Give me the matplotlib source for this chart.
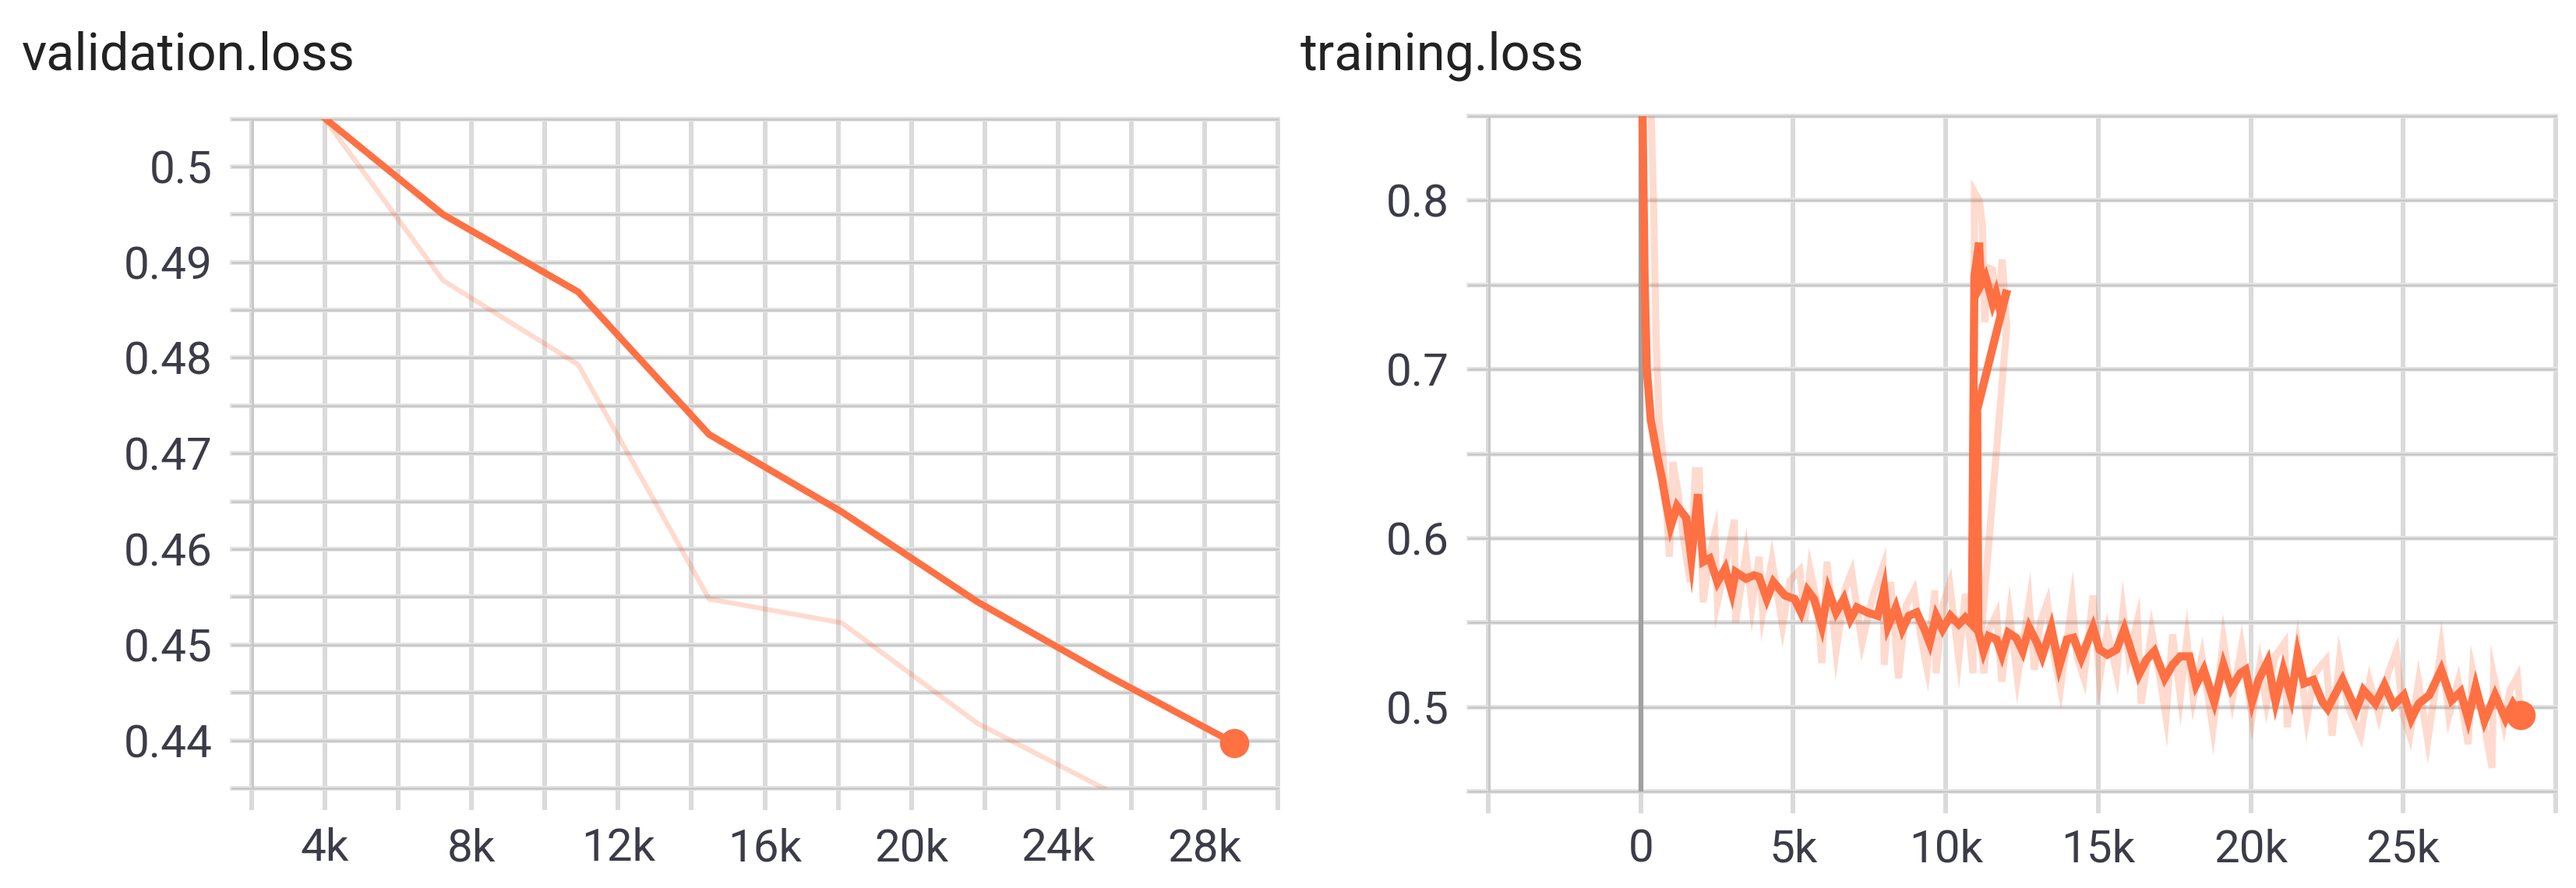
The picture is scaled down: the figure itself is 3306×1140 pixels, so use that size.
import matplotlib
matplotlib.use("Agg")
import matplotlib.pyplot as plt

# ---------------- data ----------------
# validation.loss (raw points and TensorBoard-smoothed line)
val_steps = [3950, 7220, 10910, 14480, 18100, 21800, 25350, 28820]
val_smoothed = [0.5052, 0.4950, 0.4869, 0.4720, 0.4639, 0.4545, 0.4468, 0.4397]
val_raw = [0.5052, 0.4881, 0.4793, 0.4548, 0.4523, 0.4418, 0.4348, 0.4290]

# training.loss, smoothed line, three consecutive runs (logged in this order)
runA_s_steps = [0, 60, 130, 200, 330, 550, 700, 820, 980, 1190, 1490, 1660, 1875, 2050,
                2260, 2515, 2770, 2985, 3110, 3450, 3710, 3880, 4135, 4350, 4730, 5043,
                5256, 5470, 5680, 5937, 6150, 6405, 6661, 6874, 7087, 7428, 7768, 7981,
                8109, 8365, 8578, 8790, 9046, 9302, 9472, 9685, 9898, 10153, 10427,
                10641, 10855]
runA_s_vals = [0.95, 0.85, 0.75, 0.70, 0.67, 0.648, 0.635, 0.622, 0.607, 0.619, 0.612,
               0.588, 0.626, 0.586, 0.588, 0.574, 0.582, 0.568, 0.580, 0.576, 0.578,
               0.577, 0.564, 0.574, 0.566, 0.564, 0.556, 0.569, 0.564, 0.548, 0.569,
               0.556, 0.564, 0.552, 0.559, 0.556, 0.554, 0.570, 0.548, 0.559, 0.546,
               0.554, 0.556, 0.546, 0.538, 0.554, 0.546, 0.554, 0.549, 0.553, 0.549]
runB_s_steps = [10940, 11094, 11154, 11300, 11410, 11538, 11650, 11795, 12009]
runB_s_vals = [0.755, 0.775, 0.750, 0.755, 0.748, 0.739, 0.745, 0.734, 0.747]
runC_s_steps = [11030, 11068, 11239, 11410, 11667, 11838, 12051, 12308, 12521, 12735,
                12991, 13162, 13461, 13718, 13974, 14188, 14444, 14829, 15043, 15299,
                15598, 15855, 16068, 16325, 16581, 16838, 17179, 17436, 17692, 17991,
                18205, 18462, 18803, 19103, 19359, 19658, 19829, 20043, 20256, 20556,
                20812, 21068, 21325, 21538, 21752, 22051, 22350, 22520, 23010, 23451,
                23696, 24088, 24382, 24676, 25020, 25265, 25510, 25853, 26245, 26588,
                26882, 27127, 27373, 27667, 28010, 28353, 28598, 28850]
runC_s_vals = [0.676, 0.545, 0.533, 0.542, 0.540, 0.531, 0.544, 0.541, 0.533, 0.547,
               0.538, 0.530, 0.547, 0.524, 0.540, 0.541, 0.529, 0.547, 0.534, 0.531,
               0.534, 0.546, 0.534, 0.519, 0.528, 0.533, 0.517, 0.525, 0.530, 0.530,
               0.513, 0.522, 0.503, 0.525, 0.511, 0.520, 0.522, 0.503, 0.516, 0.527,
               0.503, 0.522, 0.506, 0.531, 0.514, 0.516, 0.503, 0.499, 0.516, 0.498,
               0.510, 0.502, 0.513, 0.501, 0.507, 0.493, 0.502, 0.507, 0.522, 0.504,
               0.509, 0.493, 0.512, 0.492, 0.507, 0.493, 0.502, 0.495]

# training.loss, raw values
runA_r_steps = [0, 300, 420, 500, 600, 750, 940, 1050, 1200, 1400, 1620, 1790, 1918, 2046,
                2250, 2430, 2515, 2800, 3070, 3110, 3450, 3650, 3880, 4000, 4300, 4650,
                4900, 5213, 5383, 5554, 5800, 5937, 6107, 6405, 6700, 6916, 7257, 7600,
                7939, 7981, 8194, 8450, 8700, 8961, 9200, 9387, 9642, 9685, 9900, 10128,
                10427, 10641, 10897]
runA_r_vals = [1.00, 0.88, 0.80, 0.72, 0.67, 0.645, 0.589, 0.645, 0.630, 0.600, 0.574,
               0.640, 0.640, 0.562, 0.590, 0.603, 0.562, 0.585, 0.611, 0.550, 0.591,
               0.560, 0.589, 0.556, 0.587, 0.548, 0.575, 0.581, 0.551, 0.581, 0.560,
               0.526, 0.586, 0.533, 0.570, 0.580, 0.538, 0.565, 0.583, 0.525, 0.574,
               0.517, 0.560, 0.569, 0.540, 0.523, 0.569, 0.520, 0.560, 0.573, 0.529,
               0.567, 0.520]
runB_r_steps = [10940, 11100, 11197, 11282, 11400, 11538, 11700, 11850, 12000]
runB_r_vals = [0.805, 0.800, 0.786, 0.728, 0.760, 0.759, 0.735, 0.765, 0.725]
runC_r_steps = [11150, 11250, 11400, 11667, 11838, 12094, 12350, 12735, 12906, 13100,
                13333, 13550, 13761, 14145, 14300, 14530, 14829, 15043, 15300, 15600,
                15812, 16000, 16282, 16410, 16752, 17000, 17222, 17436, 17692, 17906,
                18120, 18400, 18761, 19103, 19400, 19700, 20043, 20300, 20513, 20800,
                21111, 21197, 21538, 21838, 22100, 22471, 22667, 22912, 23200, 23598,
                23900, 24200, 24500, 24775, 25000, 25216, 25500, 25804, 26050, 26245,
                26500, 26800, 27127, 27275, 27600, 27912, 27961, 28300, 28500, 28745,
                28850]
runC_r_vals = [0.540, 0.520, 0.545, 0.555, 0.515, 0.555, 0.517, 0.562, 0.522, 0.550,
               0.562, 0.530, 0.511, 0.562, 0.530, 0.517, 0.566, 0.517, 0.545, 0.520,
               0.557, 0.530, 0.551, 0.502, 0.545, 0.520, 0.494, 0.543, 0.506, 0.540,
               0.505, 0.530, 0.487, 0.540, 0.505, 0.536, 0.494, 0.525, 0.502, 0.530,
               0.538, 0.488, 0.536, 0.493, 0.520, 0.528, 0.483, 0.528, 0.500, 0.483,
               0.515, 0.495, 0.520, 0.533, 0.495, 0.483, 0.515, 0.480, 0.510, 0.535,
               0.495, 0.515, 0.478, 0.522, 0.495, 0.464, 0.519, 0.490, 0.510, 0.518,
               0.495]

# axes / tick labels
val_xgrid = [2000, 4000, 6000, 8000, 10000, 12000, 14000, 16000, 18000, 20000, 22000,
             24000, 26000, 28000, 30000]
val_xlabels = ["", "4k", "", "8k", "", "12k", "", "16k", "", "20k", "", "24k", "", "28k", ""]
val_ygrid = [0.435, 0.44, 0.445, 0.45, 0.455, 0.46, 0.465, 0.47, 0.475, 0.48, 0.485,
             0.49, 0.495, 0.5, 0.505]
val_ylabels = ["", "0.44", "", "0.45", "", "0.46", "", "0.47", "", "0.48", "", "0.49",
               "", "0.5", ""]
tr_xgrid = [-5000, 0, 5000, 10000, 15000, 20000, 25000, 30000]
tr_xlabels = ["", "0", "5k", "10k", "15k", "20k", "25k", ""]
tr_ygrid = [0.45, 0.5, 0.55, 0.6, 0.65, 0.7, 0.75, 0.8, 0.85]
tr_ylabels = ["", "0.5", "", "0.6", "", "0.7", "", "0.8", ""]

# ---------------- style ----------------
W, H, DPI = 3306, 1140, 100
ORANGE = "#ff7043"
LABEL = "#3c3c48"
FONT = ["Roboto", "DejaVu Sans"]
plt.rcParams["font.family"] = FONT

fig = plt.figure(figsize=(W / DPI, H / DPI), dpi=DPI)
fig.patch.set_facecolor("white")

# pixel boxes (left, top, right, bottom)
boxes = [(323, 152.5, 1640, 1012), (1910, 149, 3280, 1016)]
axes = []
for (l, t, r, b) in boxes:
    axes.append(fig.add_axes([l / W, 1 - b / H, (r - l) / W, (b - t) / H]))
ax1, ax2 = axes

EXT = 25  # px the grid extends outside the plot


def style(ax, box, xlim, ylim, xgrid, xlabels, ygrid, ylabels, xpad, ypad):
    l, t, r, b = box
    wpx, hpx = r - l, b - t
    ax.set_xlim(*xlim)
    ax.set_ylim(*ylim)
    ax.set_facecolor("white")
    for s in ax.spines.values():
        s.set_visible(False)
    ax.set_xticks(xgrid)
    ax.set_xticklabels(xlabels)
    ax.set_yticks(ygrid)
    ax.set_yticklabels(ylabels)
    ax.tick_params(axis="both", length=0, labelsize=42, labelcolor=LABEL)
    ax.tick_params(axis="x", pad=xpad)
    ax.tick_params(axis="y", pad=ypad)
    for x in xgrid:
        ax.axvline(x, ymin=-EXT / hpx, ymax=1, color="#dadada", lw=4.3, zorder=0,
                   clip_on=False)
    for y in ygrid:
        ax.axhline(y, xmin=-EXT / wpx, xmax=1, color="#e4e4e4", lw=4.3, zorder=0.1,
                   clip_on=False)
        ax.axhline(y, xmin=-EXT / wpx, xmax=1, color="#c6c6c6", lw=1.8, zorder=0.2,
                   clip_on=False)


style(ax1, boxes[0], (2000, 30000), (0.435, 0.505), val_xgrid, val_xlabels,
      val_ygrid, val_ylabels, xpad=36, ypad=36)
style(ax2, boxes[1], (-5000, 30000), (0.45, 0.85), tr_xgrid, tr_xlabels,
      tr_ygrid, tr_ylabels, xpad=34, ypad=36)

# left spine of each chart slightly darker
ax1.axvline(2000, color="#c8c8c8", lw=4.3, zorder=0.3)
ax2.axvline(-5000, color="#c8c8c8", lw=4.3, zorder=0.3)
# y-axis line at step 0 in training chart
ax2.axvline(0, color="#a0a0a0", lw=4.5, zorder=0.5)

# validation lines
ax1.plot(val_steps, val_raw, color=ORANGE, alpha=0.26, lw=4.5, zorder=2,
         solid_joinstyle="round")
ax1.plot(val_steps, val_smoothed, color=ORANGE, lw=6.2, zorder=3,
         solid_joinstyle="round", solid_capstyle="round")
ax1.plot(val_steps[-1], val_smoothed[-1], "o", color=ORANGE, ms=26, zorder=4,
         clip_on=False)

# training lines (runs drawn in logged order)
tr_r_steps = runA_r_steps + runB_r_steps + runC_r_steps
tr_r_vals = runA_r_vals + runB_r_vals + runC_r_vals
tr_s_steps = runA_s_steps + runB_s_steps + runC_s_steps
tr_s_vals = runA_s_vals + runB_s_vals + runC_s_vals
ax2.plot(tr_r_steps, tr_r_vals, color=ORANGE, alpha=0.26, lw=6.5, zorder=2,
         solid_joinstyle="miter")
ax2.plot(tr_s_steps, tr_s_vals, color=ORANGE, lw=7.5, zorder=3,
         solid_joinstyle="miter")
ax2.plot(tr_s_steps[-1], tr_s_vals[-1], "o", color=ORANGE, ms=26, zorder=4,
         clip_on=False)

# titles
fig.text(28 / W, 1 - 89 / H, "validation.loss", fontsize=48, color="#222222",
         ha="left", va="baseline")
fig.text(1669 / W, 1 - 89 / H, "training.loss", fontsize=48, color="#222222",
         ha="left", va="baseline")

fig.savefig("out.png", dpi=DPI, facecolor="white")
